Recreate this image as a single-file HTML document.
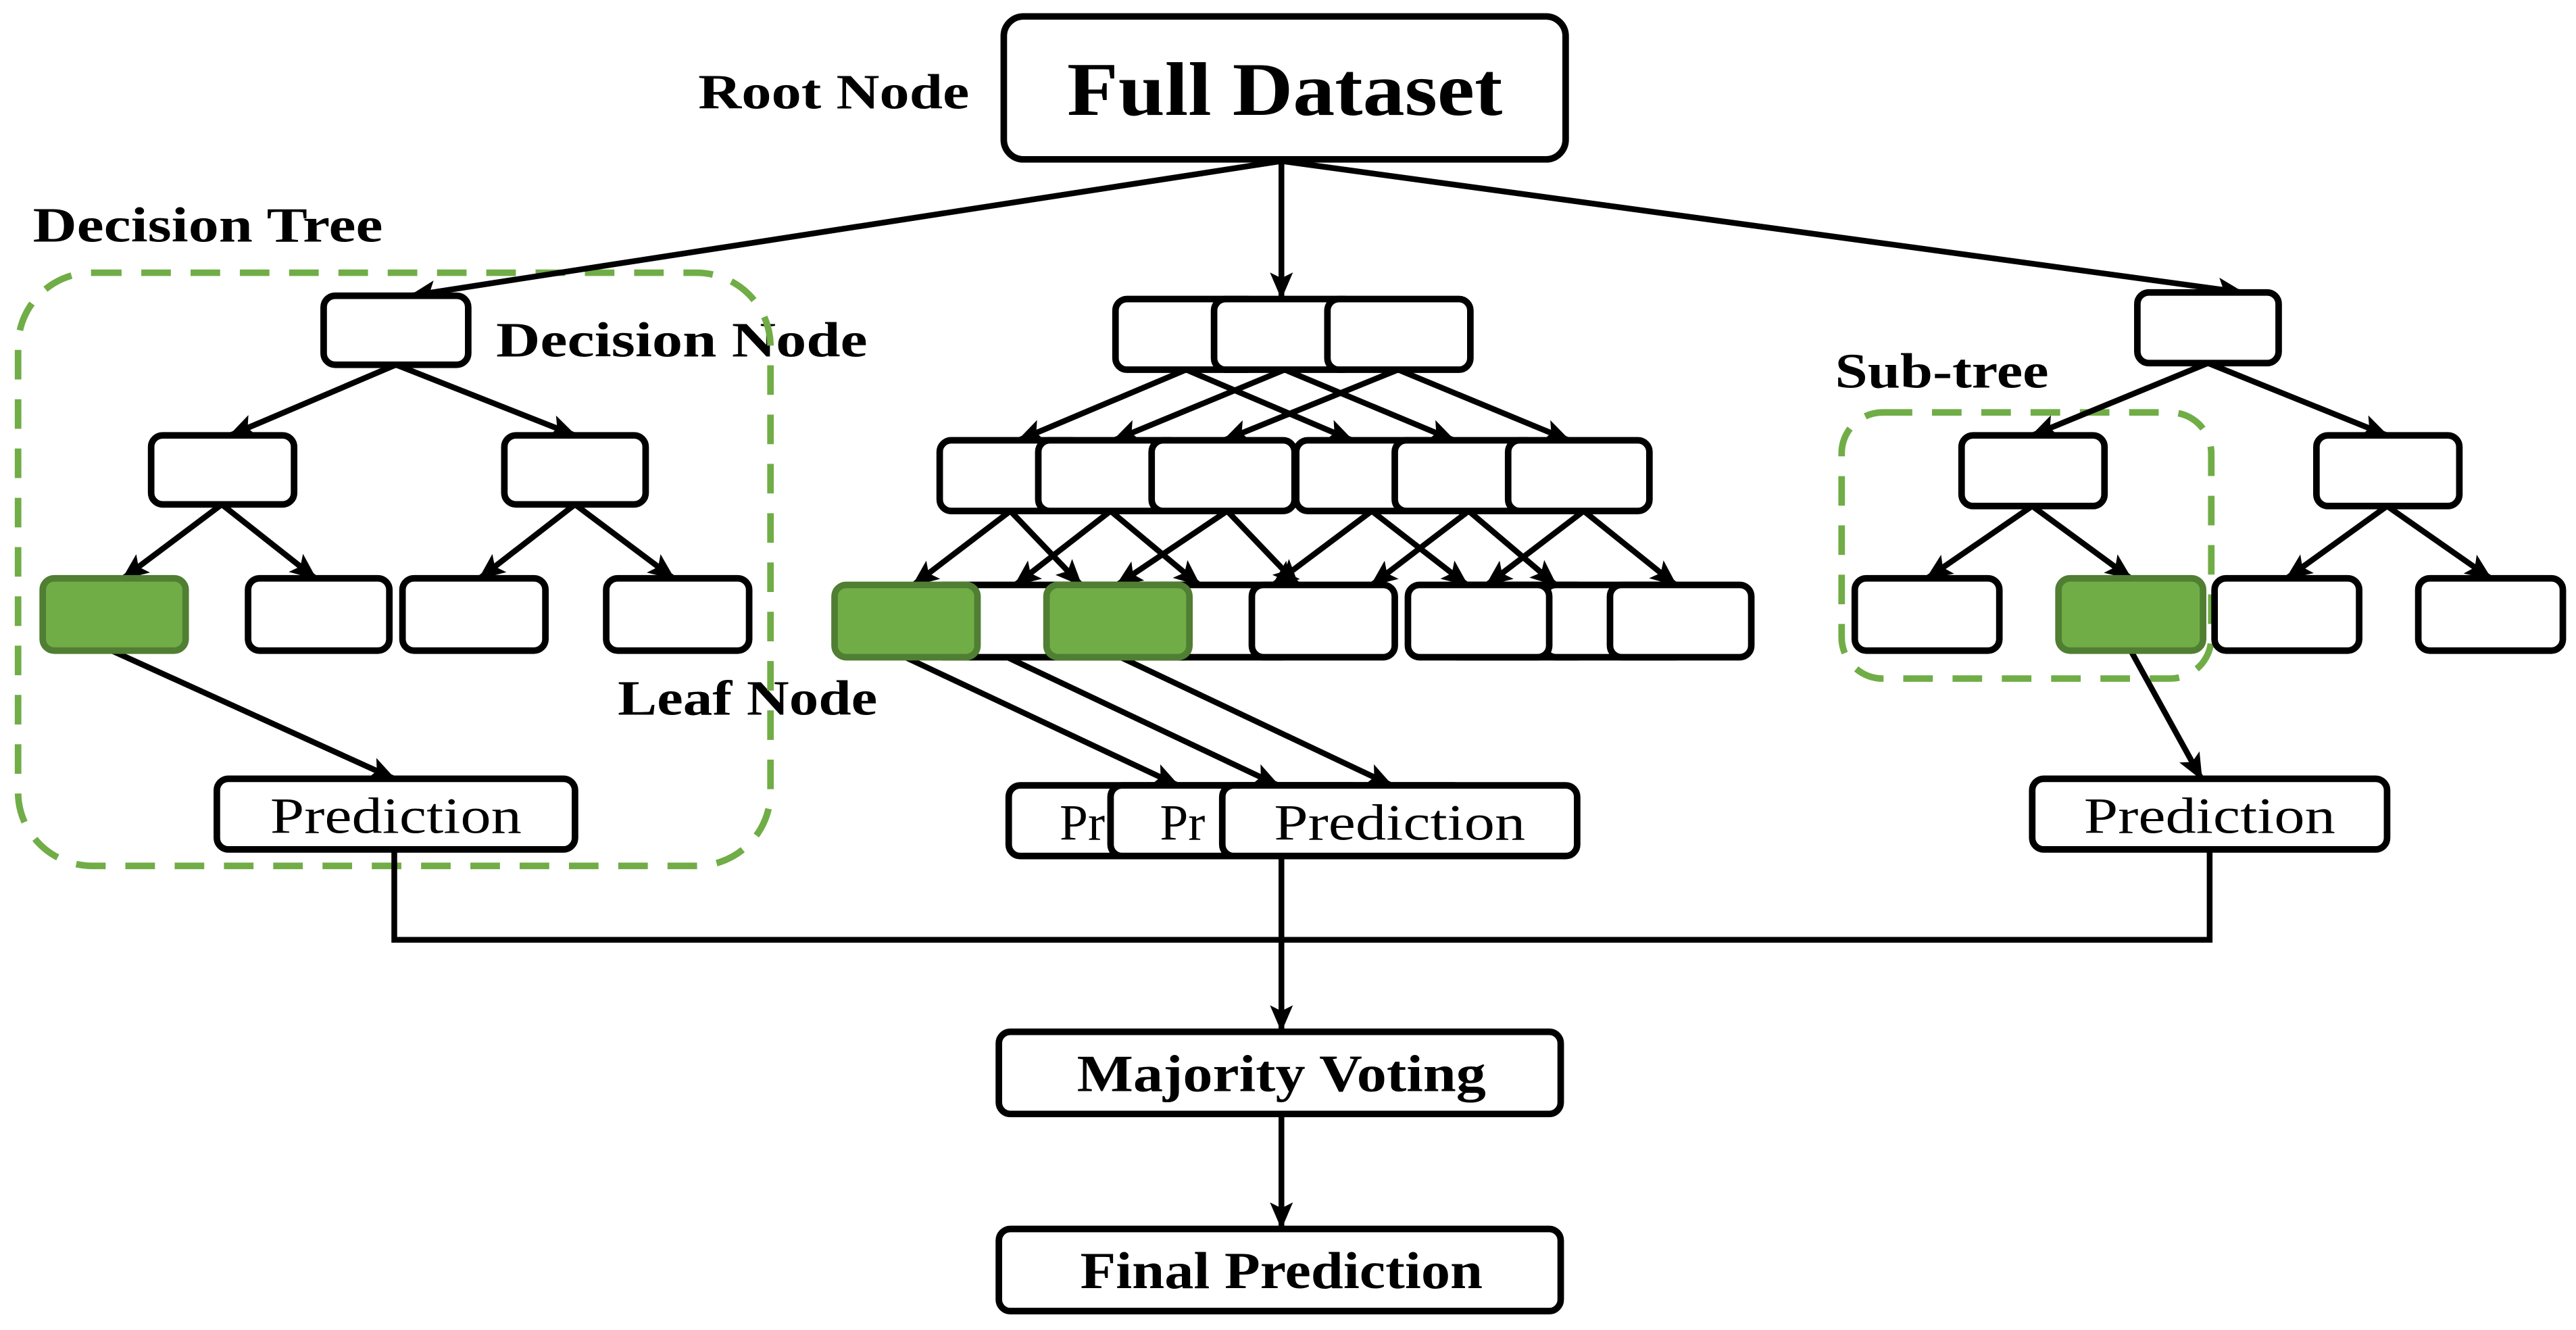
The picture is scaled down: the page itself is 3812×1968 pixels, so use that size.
<!DOCTYPE html>
<html><head><style>html,body{margin:0;padding:0;background:#fff}svg{display:block}</style></head>
<body>
<svg width="3812" height="1968" viewBox="0 0 1568 809.5" preserveAspectRatio="none" xmlns="http://www.w3.org/2000/svg">
<defs>
<marker id="ar" viewBox="0 0 14 12" refX="13" refY="6" markerWidth="17" markerHeight="14" orient="auto" markerUnits="userSpaceOnUse"><path d="M0,0 L14,6 L0,12 L3,6 z" fill="#000"/></marker>
</defs>
<g font-family="'Liberation Serif','DejaVu Serif',serif" font-weight="bold" font-size="30">
<text x="425" y="66" textLength="165" lengthAdjust="spacingAndGlyphs">Root Node</text>
<text x="20" y="147" textLength="213" lengthAdjust="spacingAndGlyphs">Decision Tree</text>
<text x="302" y="217" textLength="226" lengthAdjust="spacingAndGlyphs">Decision Node</text>
<text x="376" y="435" textLength="158" lengthAdjust="spacingAndGlyphs">Leaf Node</text>
<text x="1117" y="236" textLength="130" lengthAdjust="spacingAndGlyphs">Sub-tree</text>
</g>
<g fill="none" stroke="#70AD47" stroke-width="4" stroke-dasharray="18,12">
<rect x="11" y="166" width="458" height="361" rx="45"/>
<rect x="1121" y="251" width="225" height="162" rx="25"/>
</g>
<g stroke="#000" stroke-width="3.5" fill="none" marker-end="url(#ar)">
<line x1="780" y1="98" x2="250" y2="180"/>
<line x1="780" y1="98" x2="780" y2="181"/>
<line x1="780" y1="98" x2="1365" y2="178"/>
<line x1="241" y1="222" x2="140" y2="265"/>
<line x1="241" y1="222" x2="350" y2="265"/>
<line x1="135" y1="307" x2="75" y2="352"/>
<line x1="135" y1="307" x2="192" y2="352"/>
<line x1="350" y1="307" x2="292" y2="352"/>
<line x1="350" y1="307" x2="410" y2="352"/>
<line x1="68" y1="396" x2="240" y2="474"/>
<line x1="1344" y1="221" x2="1237" y2="265"/>
<line x1="1344" y1="221" x2="1453" y2="265"/>
<line x1="1237" y1="308" x2="1173" y2="352"/>
<line x1="1237" y1="308" x2="1297" y2="352"/>
<line x1="1453" y1="308" x2="1392" y2="352"/>
<line x1="1453" y1="308" x2="1516" y2="352"/>
<line x1="1297" y1="396" x2="1340" y2="474"/>
<line x1="722" y1="225" x2="620" y2="268"/>
<line x1="722" y1="225" x2="823" y2="268"/>
<line x1="782" y1="225" x2="678" y2="268"/>
<line x1="782" y1="225" x2="885" y2="268"/>
<line x1="851" y1="225" x2="745" y2="268"/>
<line x1="851" y1="225" x2="955" y2="268"/>
<line x1="615" y1="311" x2="556" y2="356"/>
<line x1="615" y1="311" x2="658" y2="356"/>
<line x1="676" y1="311" x2="618" y2="356"/>
<line x1="676" y1="311" x2="730" y2="356"/>
<line x1="747" y1="311" x2="680" y2="356"/>
<line x1="747" y1="311" x2="790" y2="356"/>
<line x1="835" y1="311" x2="775" y2="356"/>
<line x1="835" y1="311" x2="893" y2="356"/>
<line x1="894" y1="311" x2="835" y2="356"/>
<line x1="894" y1="311" x2="947" y2="356"/>
<line x1="964" y1="311" x2="905" y2="356"/>
<line x1="964" y1="311" x2="1020" y2="356"/>
<line x1="551" y1="400" x2="717" y2="478"/>
<line x1="613" y1="400" x2="778" y2="478"/>
<line x1="682" y1="400" x2="847" y2="478"/>
<line x1="780" y1="521" x2="780" y2="627"/>
<line x1="780" y1="678" x2="780" y2="747"/>
</g>
<polyline points="240,517 240,572 1345,572 1345,517" fill="none" stroke="#000" stroke-width="3.5"/>
<g stroke="#000" stroke-width="4" fill="#fff">
<rect x="611" y="10" width="342" height="87" rx="12"/>
<rect x="197" y="180" width="88" height="42" rx="7"/>
<rect x="92" y="265" width="87" height="42" rx="7"/>
<rect x="307" y="265" width="86" height="42" rx="7"/>
<rect x="151" y="352" width="86" height="44" rx="7"/>
<rect x="245" y="352" width="87" height="44" rx="7"/>
<rect x="369" y="352" width="87" height="44" rx="7"/>
<rect x="132" y="474" width="218" height="43" rx="7"/>
<rect x="1301" y="178" width="86" height="43" rx="7"/>
<rect x="1194" y="265" width="87" height="43" rx="7"/>
<rect x="1410" y="265" width="87" height="43" rx="7"/>
<rect x="1129" y="352" width="88" height="44" rx="7"/>
<rect x="1348" y="352" width="88" height="44" rx="7"/>
<rect x="1472" y="352" width="88" height="44" rx="7"/>
<rect x="1237" y="474" width="216" height="43" rx="7"/>
<rect x="679" y="182" width="87" height="43" rx="7"/>
<rect x="739" y="182" width="86" height="43" rx="7"/>
<rect x="808" y="182" width="87" height="43" rx="7"/>
<rect x="572" y="268" width="87" height="43" rx="7"/>
<rect x="632" y="268" width="87" height="43" rx="7"/>
<rect x="701" y="268" width="87" height="43" rx="7"/>
<rect x="789" y="268" width="87" height="43" rx="7"/>
<rect x="849" y="268" width="87" height="43" rx="7"/>
<rect x="918" y="268" width="86" height="43" rx="7"/>
<rect x="567" y="356" width="87" height="44" rx="7"/>
<rect x="640" y="356" width="87" height="44" rx="7"/>
<rect x="700" y="356" width="87" height="44" rx="7"/>
<rect x="880" y="356" width="87" height="44" rx="7"/>
<rect x="940" y="356" width="87" height="44" rx="7"/>
<rect x="762" y="356" width="87" height="44" rx="7"/>
<rect x="857" y="356" width="86" height="44" rx="7"/>
<rect x="980" y="356" width="86" height="44" rx="7"/>
<rect x="614" y="478" width="216" height="43" rx="7"/>
<rect x="608" y="628" width="342" height="50" rx="7"/>
<rect x="608" y="748" width="342" height="50" rx="7"/>
</g>
<g fill="#70AD47" stroke="#507E32" stroke-width="4">
<rect x="26" y="352" width="87" height="44" rx="7"/>
<rect x="1253" y="352" width="88" height="44" rx="7"/>
<rect x="508" y="356" width="87" height="44" rx="7"/>
<rect x="637" y="356" width="87" height="44" rx="7"/>
</g>
<g font-family="'Liberation Serif','DejaVu Serif',serif" font-size="31">
<text x="645" y="511">Pr</text>
</g>
<rect x="676" y="478" width="216" height="43" rx="7" fill="#fff" stroke="#000" stroke-width="4"/>
<text x="706" y="511" font-size="31" font-family="'Liberation Serif','DejaVu Serif',serif">Pr</text>
<rect x="744" y="478" width="216" height="43" rx="7" fill="#fff" stroke="#000" stroke-width="4"/>
<g font-family="'Liberation Serif','DejaVu Serif',serif" text-anchor="middle">
<text x="782" y="70" font-size="46" font-weight="bold" textLength="265" lengthAdjust="spacingAndGlyphs">Full Dataset</text>
<text x="241" y="507" font-size="31" textLength="153" lengthAdjust="spacingAndGlyphs">Prediction</text>
<text x="1345" y="507" font-size="31" textLength="153" lengthAdjust="spacingAndGlyphs">Prediction</text>
<text x="852" y="511" font-size="31" textLength="153" lengthAdjust="spacingAndGlyphs">Prediction</text>
<text x="780" y="664" font-size="32" font-weight="bold" textLength="249" lengthAdjust="spacingAndGlyphs">Majority Voting</text>
<text x="780" y="784" font-size="32" font-weight="bold" textLength="245" lengthAdjust="spacingAndGlyphs">Final Prediction</text>
</g>
</svg>
</body></html>
